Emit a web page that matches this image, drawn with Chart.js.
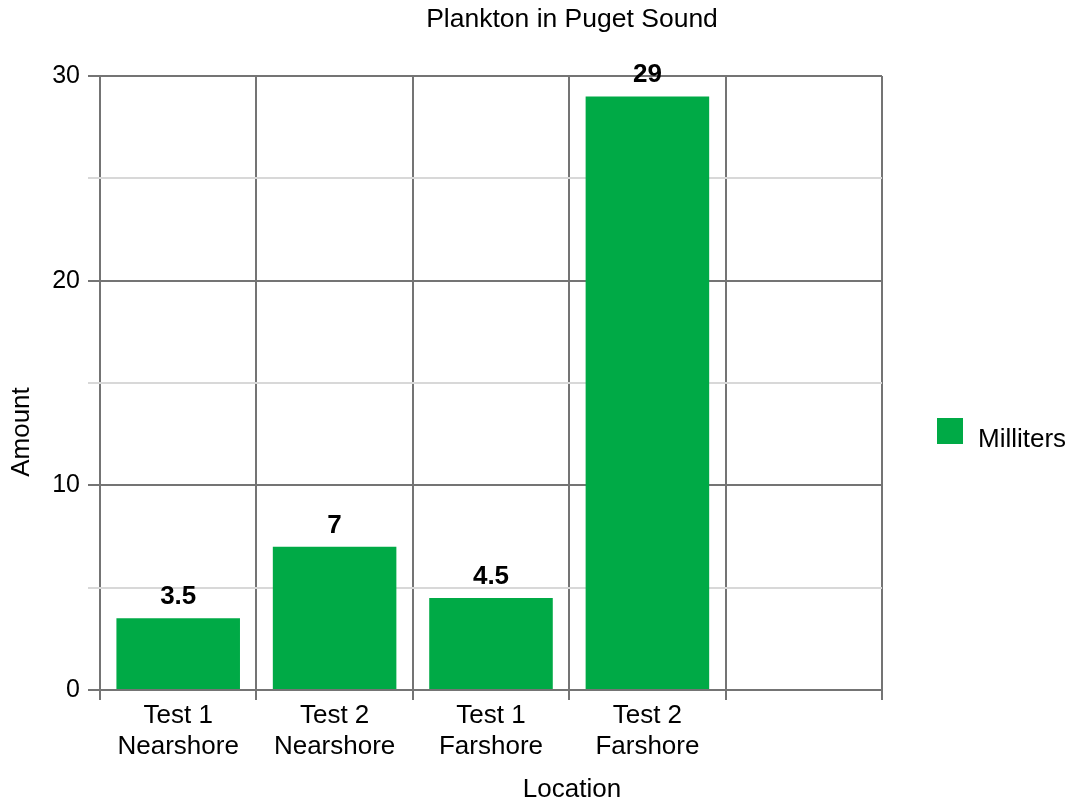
<!DOCTYPE html>
<html lang="en">
<head>
    <meta charset="UTF-8">
    <title>Plankton in Puget Sound</title>
    <script src="https://cdn.jsdelivr.net/npm/chart.js"></script>
    <style>
        html, body {
            margin: 0;
            padding: 0;
            background: #ffffff;
        }
        #wrap {
            width: 1071px;
            height: 803px;
        }
    </style>
</head>
<body>
    <div id="wrap"><canvas id="myChart"></canvas></div>
    <script>
        // data
        var chartTitle = 'Plankton in Puget Sound';
        var xTitle = 'Location';
        var yTitle = 'Amount';
        var seriesName = 'Milliters';
        var locations = [['Test 1', 'Nearshore'], ['Test 2', 'Nearshore'], ['Test 1', 'Farshore'], ['Test 2', 'Farshore'], ''];
        var milliliters = [3.5, 7, 4.5, 29, null];
        var yTickLabels = [0, 10, 20, 30];

        var fontFamily = '"Liberation Sans", Arial, Helvetica, sans-serif';
        var barColor = '#00aa46';
        var majorGrid = '#747474';
        var minorGrid = '#d8d8d8';
        var textColor = '#000000';

        // titles, legend and value labels drawn on top of the chart
        var extras = {
            id: 'extras',
            afterDatasetsDraw: function(chart) {
                var ctx = chart.ctx;
                var meta = chart.getDatasetMeta(0);
                ctx.save();
                ctx.fillStyle = textColor;
                ctx.font = 'bold 26px ' + fontFamily;
                ctx.textAlign = 'center';
                ctx.textBaseline = 'alphabetic';
                meta.data.forEach(function(bar, i) {
                    var v = milliliters[i];
                    if (v === null) return;
                    ctx.fillText(String(v), bar.x, bar.y - 14);
                });
                ctx.restore();
            },
            afterDraw: function(chart) {
                var ctx = chart.ctx;
                ctx.save();
                ctx.fillStyle = textColor;
                ctx.textAlign = 'center';
                ctx.textBaseline = 'middle';
                ctx.font = '26.5px ' + fontFamily;
                ctx.fillText(chartTitle, 572, 20);
                ctx.font = '26px ' + fontFamily;
                ctx.fillText(xTitle, 572, 790);

                ctx.save();
                ctx.translate(22, 432);
                ctx.rotate(-Math.PI / 2);
                ctx.fillText(yTitle, 0, 0);
                ctx.restore();

                // legend
                ctx.fillStyle = barColor;
                ctx.fillRect(937, 418, 26, 26);
                ctx.fillStyle = textColor;
                ctx.textAlign = 'left';
                ctx.fillText(seriesName, 978, 440);
                ctx.restore();
            }
        };

        var ctx = document.getElementById('myChart').getContext('2d');
        var myChart = new Chart(ctx, {
            type: 'bar',
            data: {
                labels: locations,
                datasets: [{
                    label: seriesName,
                    data: milliliters,
                    backgroundColor: barColor,
                    borderWidth: 0,
                    categoryPercentage: 0.79,
                    barPercentage: 1.0
                }]
            },
            options: {
                responsive: true,
                maintainAspectRatio: false,
                animation: false,
                layout: {
                    padding: { top: 76, right: 189, bottom: 0, left: 0 }
                },
                plugins: {
                    legend: { display: false },
                    title: { display: false },
                    tooltip: { enabled: false }
                },
                scales: {
                    x: {
                        grid: {
                            offset: true,
                            color: majorGrid,
                            lineWidth: 2,
                            tickLength: 10
                        },
                        border: { color: majorGrid, width: 2 },
                        ticks: {
                            color: textColor,
                            font: { family: fontFamily, size: 26 },
                            padding: 0,
                            maxRotation: 0,
                            autoSkip: false
                        },
                        afterFit: function(scale) {
                            scale.height = 113;
                        }
                    },
                    y: {
                        min: 0,
                        max: 30,
                        border: { display: false },
                        grid: {
                            color: function(c) {
                                return c.tick && c.tick.value % 10 === 0 ? majorGrid : minorGrid;
                            },
                            lineWidth: 2,
                            tickLength: 12
                        },
                        ticks: {
                            stepSize: 5,
                            color: textColor,
                            font: { family: fontFamily, size: 25 },
                            padding: 8,
                            callback: function(value) {
                                return yTickLabels.indexOf(value) >= 0 ? value : '';
                            }
                        },
                        afterFit: function(scale) {
                            scale.width = 100;
                        }
                    }
                }
            },
            plugins: [extras]
        });
    </script>
</body>
</html>
